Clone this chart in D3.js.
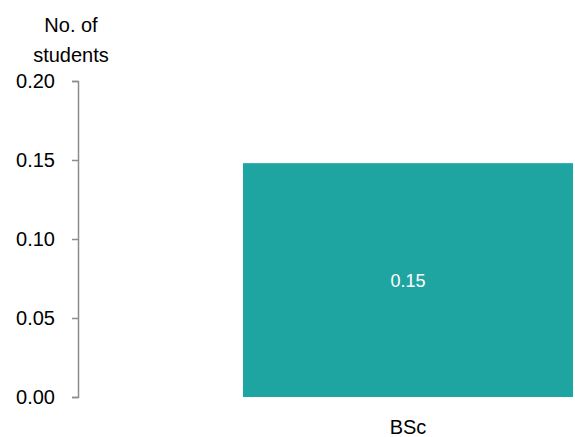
<!DOCTYPE html>
<html>
<head>
<meta charset="UTF-8">
<title>students chart</title>
<script src="https://cdn.jsdelivr.net/npm/d3@7"></script>
<style>
  body { margin: 0; background: #fff; }
  text { font-family: "Liberation Sans", "DejaVu Sans", sans-serif; }
</style>
</head>
<body>
<div id="chart"></div>
<script>
const categories = ["BSc"];
const values = [0.148];
const yTicks = [0, 0.05, 0.1, 0.15, 0.2];

const width = 575;
const height = 437;
const axisX = 78;
const plotTop = 81;
const plotBottom = 397;

const svg = d3.select("#chart")
  .append("svg")
  .attr("width", width)
  .attr("height", height);

const x = d3.scaleBand()
  .domain(categories)
  .range([axisX, 738])
  .paddingInner(0.5)
  .paddingOuter(0.25);

const y = d3.scaleLinear()
  .domain([0, 0.2])
  .range([plotBottom, plotTop]);

svg.selectAll("rect.bar")
  .data(values)
  .join("rect")
  .attr("class", "bar")
  .attr("x", (d, i) => x(categories[i]))
  .attr("y", d => y(d))
  .attr("width", x.bandwidth())
  .attr("height", d => y(0) - y(d))
  .attr("fill", "#1fa5a1");

svg.selectAll("text.val")
  .data(values)
  .join("text")
  .attr("class", "val")
  .attr("x", (d, i) => x(categories[i]) + x.bandwidth() / 2)
  .attr("y", d => (y(d) + y(0)) / 2 + 7)
  .attr("text-anchor", "middle")
  .attr("font-size", "18px")
  .attr("fill", "#fff")
  .text(d => d3.format(".2f")(d));

// y axis
const yAxis = svg.append("g")
  .attr("transform", "translate(" + axisX + ",0)")
  .call(d3.axisLeft(y).tickValues(yTicks).tickFormat(d3.format(".2f")).tickSize(6).tickPadding(17));
yAxis.selectAll("path, line").attr("stroke", "#8c8c8c").attr("stroke-width", 1.5);
yAxis.selectAll("text").attr("font-size", "20px").attr("fill", "#000")
  .style("font-family", "'Liberation Sans', sans-serif");

// category labels
svg.selectAll("text.cat")
  .data(categories)
  .join("text")
  .attr("class", "cat")
  .attr("x", d => x(d) + x.bandwidth() / 2)
  .attr("y", 434)
  .attr("text-anchor", "middle")
  .attr("font-size", "20px")
  .text(d => d);

// axis title
const title = svg.append("text")
  .attr("text-anchor", "middle")
  .attr("font-size", "20px");
title.append("tspan").attr("x", 71).attr("y", 32).text("No. of");
title.append("tspan").attr("x", 71).attr("y", 62).text("students");
</script>
</body>
</html>
